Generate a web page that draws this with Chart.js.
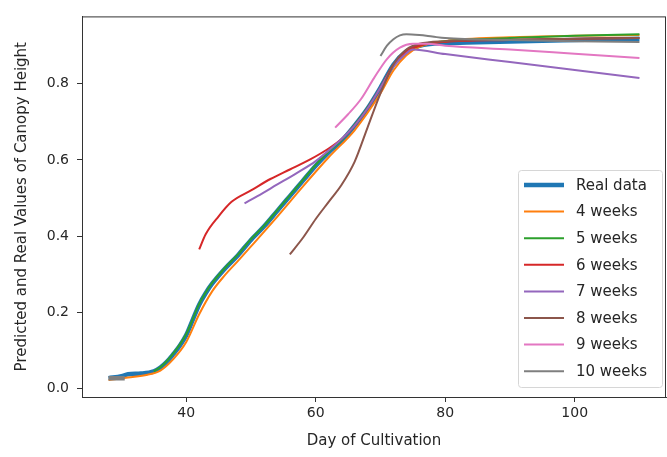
<!DOCTYPE html>
<html>
<head>
<meta charset="utf-8">
<script src="https://cdn.jsdelivr.net/npm/chart.js@4.4.1/dist/chart.umd.min.js"></script>
<style>
  html, body { margin: 0; padding: 0; background: #fff; }
  #wrap { width: 667px; height: 457px; }
</style>
</head>
<body>
<div id="wrap"><canvas id="canopy" width="667" height="457"></canvas></div>
<script>
// Day of cultivation / canopy height
const realDays   = [28, 30, 31, 33, 35, 36, 37, 38, 39, 40, 41, 42, 43, 44, 46, 48, 50, 52, 54, 56, 58, 60, 62, 64, 66, 68, 70, 72, 74, 76, 78, 80, 85, 90, 95, 100, 105, 110];
const realValues = [0.027, 0.032, 0.037, 0.039, 0.045, 0.055, 0.07, 0.09, 0.112, 0.14, 0.18, 0.22, 0.25, 0.275, 0.315, 0.35, 0.39, 0.425, 0.465, 0.505, 0.545, 0.585, 0.62, 0.65, 0.69, 0.735, 0.79, 0.85, 0.885, 0.9, 0.905, 0.907, 0.909, 0.911, 0.913, 0.915, 0.917, 0.918];

const fourDays   = [28, 31, 34, 36, 38, 40, 42, 44, 46, 48, 50, 54, 58, 62, 66, 70, 72, 74, 76, 80, 90, 100, 110];
const fourValues = [0.022, 0.029, 0.036, 0.047, 0.077, 0.122, 0.195, 0.255, 0.298, 0.335, 0.373, 0.45, 0.53, 0.607, 0.678, 0.775, 0.835, 0.875, 0.897, 0.912, 0.922, 0.926, 0.928];

const fiveDays   = [35, 36, 37, 38, 39, 40, 41, 42, 43, 44, 46, 48, 50, 52, 54, 56, 58, 60, 62, 64, 66, 68, 70, 72, 74, 76, 78, 80, 90, 100, 110];
const fiveValues = [0.045, 0.056, 0.072, 0.092, 0.115, 0.143, 0.182, 0.222, 0.252, 0.277, 0.317, 0.352, 0.392, 0.427, 0.467, 0.507, 0.547, 0.587, 0.622, 0.652, 0.692, 0.737, 0.79, 0.85, 0.885, 0.9, 0.908, 0.912, 0.92, 0.926, 0.93];

const sixDays    = [42, 43, 45, 47, 50, 53, 56, 59, 62, 64, 66, 68, 70, 72, 74, 76, 80, 90, 100, 110];
const sixValues  = [0.365, 0.405, 0.452, 0.49, 0.52, 0.55, 0.575, 0.6, 0.63, 0.655, 0.69, 0.735, 0.79, 0.85, 0.885, 0.9, 0.91, 0.915, 0.918, 0.92];

const sevenDays   = [49, 51, 54, 57, 60, 62, 64, 66, 68, 70, 72, 74, 75, 80, 90, 100, 110];
const sevenValues = [0.486, 0.505, 0.535, 0.565, 0.597, 0.625, 0.655, 0.69, 0.735, 0.79, 0.845, 0.88, 0.89, 0.878, 0.857, 0.836, 0.815];

const eightDays   = [56, 58, 60, 62, 64, 66, 68, 70, 72, 74, 76, 80, 90, 100, 110];
const eightValues = [0.352, 0.395, 0.445, 0.49, 0.535, 0.595, 0.685, 0.775, 0.85, 0.89, 0.905, 0.912, 0.916, 0.918, 0.92];

const nineDays   = [63, 65, 67, 69, 71, 73, 75, 77, 80, 90, 100, 110];
const nineValues = [0.685, 0.72, 0.76, 0.815, 0.865, 0.895, 0.905, 0.905, 0.9, 0.89, 0.879, 0.868];

const tenDays    = [70, 71, 72, 73, 74, 76, 78, 80, 90, 100, 110];
const tenValues  = [0.873, 0.9, 0.917, 0.927, 0.93, 0.928, 0.924, 0.92, 0.915, 0.912, 0.91];

// short thick grey stub at the very start of the real curve
const stubDays   = [28, 30.5];
const stubValues = [0.027, 0.027];

const xTicks = [40, 60, 80, 100];
const yTicks = [0, 0.2, 0.4, 0.6, 0.8];

const FONT = "'DejaVu Sans', sans-serif";
const TEXT = '#262626';

function pts(days, vals) {
    return days.map((d, i) => ({ x: d, y: vals[i] }));
}

function line(label, days, vals, color, width, order) {
    return {
        label: label,
        data: pts(days, vals),
        borderColor: color,
        backgroundColor: color,
        borderWidth: width,
        pointRadius: 0,
        cubicInterpolationMode: 'monotone',
        fill: false,
        order: order
    };
}

// matplotlib draws later lines on top, chart.js draws lower "order" on top
const datasets = [
    line('Real data', realDays, realValues, '#1f77b4', 4.5, 9),
    line('4 weeks', fourDays, fourValues, '#ff7f0e', 2, 8),
    line('5 weeks', fiveDays, fiveValues, '#2ca02c', 2, 7),
    line('6 weeks', sixDays, sixValues, '#d62728', 2, 6),
    line('7 weeks', sevenDays, sevenValues, '#9467bd', 2, 5),
    line('8 weeks', eightDays, eightValues, '#8c564b', 2, 4),
    line('9 weeks', nineDays, nineValues, '#e377c2', 2, 3),
    line('10 weeks', tenDays, tenValues, '#7f7f7f', 2, 2),
    line('', stubDays, stubValues, '#7f7f7f', 4.5, 1)
];

// top / right spines like matplotlib
const frame = {
    id: 'frame',
    afterDraw(chart) {
        const { ctx, chartArea: a } = chart;
        ctx.save();
        ctx.strokeStyle = '#333';
        ctx.lineWidth = 1;
        ctx.strokeRect(a.left + 0.5, a.top + 0.5, a.right - a.left - 1, a.bottom - a.top);
        ctx.restore();
    }
};

// legend box sitting inside the plot, lower right
const insideLegend = {
    id: 'insideLegend',
    afterDraw(chart) {
        const { ctx, chartArea: a } = chart;
        const items = chart.data.datasets.filter(d => d.label);
        const rowH = 26.6;
        const boxW = 144, boxH = 217;
        const bx = a.right - 4 - boxW, by = a.bottom - 10 - boxH;
        ctx.save();
        ctx.beginPath();
        ctx.roundRect(bx + 0.5, by + 0.5, boxW, boxH, 3);
        ctx.fillStyle = 'rgba(255,255,255,0.8)';
        ctx.fill();
        ctx.strokeStyle = '#d6d6d6';
        ctx.lineWidth = 1;
        ctx.stroke();
        ctx.font = '15px ' + FONT;
        ctx.textBaseline = 'middle';
        items.forEach((d, i) => {
            const y = by + 15 + i * rowH;
            ctx.beginPath();
            ctx.moveTo(bx + 6, y);
            ctx.lineTo(bx + 46, y);
            ctx.strokeStyle = d.borderColor;
            ctx.lineWidth = d.borderWidth;
            ctx.stroke();
            ctx.fillStyle = TEXT;
            ctx.fillText(d.label, bx + 58, y + 1);
        });
        ctx.restore();
    }
};

new Chart(document.getElementById('canopy'), {
    type: 'line',
    data: { datasets: datasets },
    options: {
        responsive: false,
        animation: false,
        devicePixelRatio: 1,
        layout: { padding: { top: 9, right: 1, left: 0, bottom: 0 } },
        plugins: {
            legend: { display: false },
            tooltip: { enabled: false }
        },
        scales: {
            x: {
                type: 'linear',
                min: 23.9,
                max: 114.1,
                afterBuildTicks: ax => { ax.ticks = xTicks.map(v => ({ value: v })); },
                afterFit: ax => { ax.height = 60; },
                grid: { drawOnChartArea: false, drawTicks: true, tickLength: 5, color: '#333' },
                border: { display: true, color: '#333' },
                ticks: { font: { family: FONT, size: 14 }, color: TEXT, padding: 3, maxRotation: 0 },
                title: {
                    display: true,
                    text: 'Day of Cultivation',
                    font: { family: FONT, size: 15 },
                    color: TEXT,
                    padding: { top: 2, bottom: 7 }
                }
            },
            y: {
                min: -0.0225,
                max: 0.977,
                afterBuildTicks: ax => { ax.ticks = yTicks.map(v => ({ value: v })); },
                afterFit: ax => { ax.width = 82; },
                grid: { drawOnChartArea: false, drawTicks: true, tickLength: 5, color: '#333' },
                border: { display: true, color: '#333' },
                ticks: {
                    font: { family: FONT, size: 14 },
                    color: TEXT,
                    padding: 8,
                    callback: v => v.toFixed(1)
                },
                title: {
                    display: true,
                    text: 'Predicted and Real Values of Canopy Height',
                    font: { family: FONT, size: 15 },
                    color: TEXT,
                    padding: { top: 13, bottom: 0 }
                }
            }
        }
    },
    plugins: [frame, insideLegend]
});
</script>
</body>
</html>
